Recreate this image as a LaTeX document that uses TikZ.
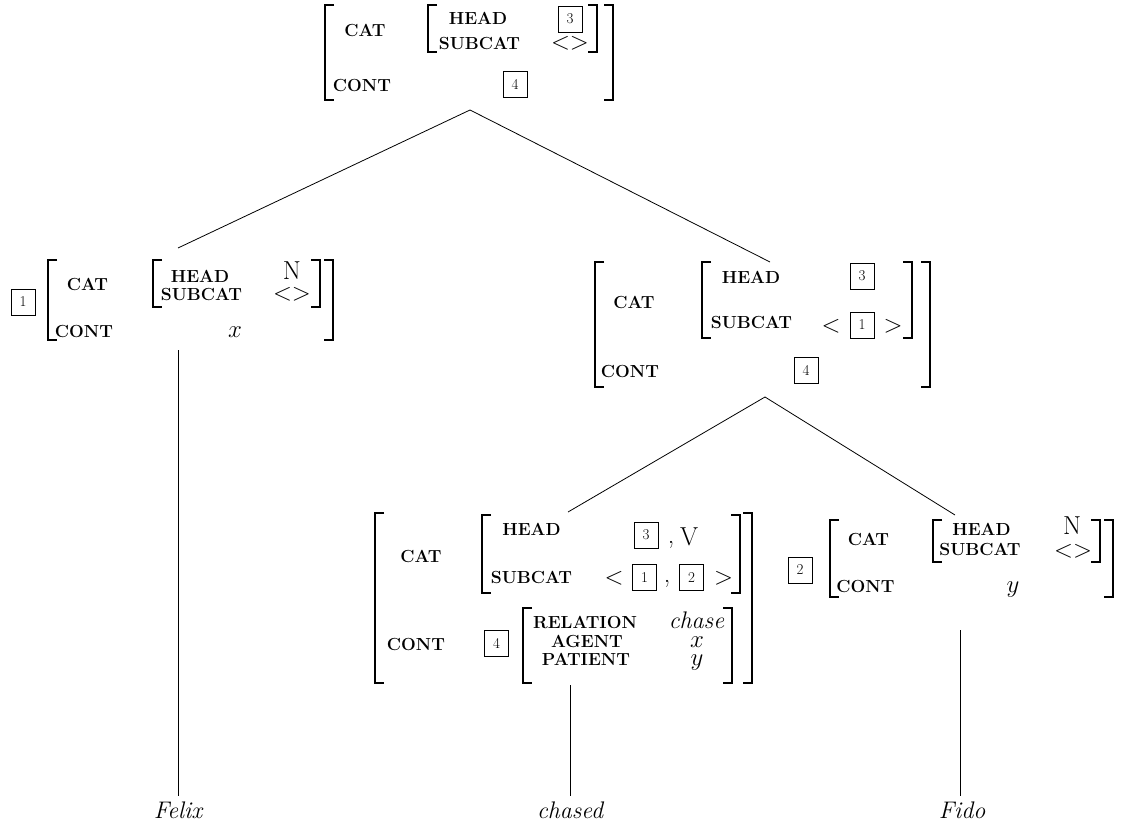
\documentclass[tikz,border=0pt]{standalone}
\usepackage{fontspec}
\newcommand\avmL[3]{\draw[brk] ({#1+9},#2) -- (#1,#2) -- (#1,#3) -- ({#1+9},#3);}
\newcommand\avmR[3]{\draw[brk] ({#1-9},#2) -- (#1,#2) -- (#1,#3) -- ({#1-9},#3);}
\tikzset{
  feat/.style={font=\fontsize{17.5}{18}\selectfont\bfseries, inner sep=0pt, anchor=base},
  tag/.style={draw, line width=0.7pt, minimum width=24pt, minimum height=26pt, inner sep=0pt, font=\fontsize{15}{15}\selectfont},
  val/.style={font=\fontsize{26}{26}\selectfont, inner sep=0pt, anchor=base},
  ang/.style={font=\fontsize{27}{27}\selectfont, inner sep=0pt},
  word/.style={font=\fontsize{24}{24}\selectfont\itshape, inner sep=5pt, anchor=base},
  brk/.style={line width=1.5pt},
  edge/.style={line width=0.8pt}
}
\begin{document}
\begin{tikzpicture}[x=1pt,y=-1pt]
\useasboundingbox (0,0) rectangle (1123,826);
% ---------- top AVM ----------
\node[feat] (tCat) at (365,37) {CAT};
\node[feat] (tHead) at (478,25) {HEAD};
\node[feat] (tSub) at (479.5,50) {SUBCAT};
\node[tag] (tB3) at (570,19) {3};
\node[ang] (tAng) at (570,43) {$<>$};
\node[feat] (tCont) at (362,92) {CONT};
\node[tag] (tB4) at (515,84) {4};
\avmL{325}{5}{100}
\avmR{613}{5}{100}
\avmL{428}{5}{52}
\avmR{597}{5}{52}
\coordinate (tBot) at (470,110);
% ---------- left AVM (Felix) ----------
\node[tag] (lB1) at (23,302) {1};
\node[feat] (lCat) at (87.5,290) {CAT};
\node[feat] (lHead) at (200,282) {HEAD};
\node[feat] (lSub) at (201.5,300) {SUBCAT};
\node[val] (lN) at (292,279) {N};
\node[ang] (lAng) at (292,294) {$<>$};
\node[feat] (lCont) at (84,337) {CONT};
\node[val] (lX) at (235,337) {$x$};
\avmL{48}{260}{340}
\avmR{333}{260}{340}
\avmL{153}{260}{307}
\avmR{320}{260}{307}
\coordinate (lTop) at (178,248);
\coordinate (lBot) at (178,350);
% ---------- right AVM ----------
\node[feat] (rCat) at (634,308) {CAT};
\node[feat] (rHead) at (751,283) {HEAD};
\node[feat] (rSub) at (751.5,328) {SUBCAT};
\node[tag] (rB3) at (862,276) {3};
\node[ang] (rLt) at (831,326) {$<$};
\node[tag] (rB1) at (862,325) {1};
\node[ang] (rGt) at (893,326) {$>$};
\node[feat] (rCont) at (630,377) {CONT};
\node[tag] (rB4) at (806,370) {4};
\avmL{595}{262}{387}
\avmR{930}{262}{387}
\avmL{702}{262}{338}
\avmR{912}{262}{338}
\coordinate (rTop) at (770,262);
\coordinate (rBot) at (765,397);
% ---------- chased AVM ----------
\node[feat] (cCat) at (421,562) {CAT};
\node[feat] (cHead) at (531.5,535) {HEAD};
\node[tag] (cB3) at (646,535) {3};
\node[val] (cCm1) at (671,543) {,};
\node[val] (cV) at (689,545) {V};
\node[feat] (cSub) at (531.5,583) {SUBCAT};
\node[ang] (cLt) at (614,578) {$<$};
\node[tag] (cB1) at (644.5,577.5) {1};
\node[val] (cCm2) at (667,582) {,};
\node[tag] (cB2) at (691.5,577.5) {2};
\node[ang] (cGt) at (723.5,578) {$>$};
\node[feat] (cCont) at (416,650) {CONT};
\node[tag] (cB4) at (496.5,643.5) {4};
\node[feat] (cRel) at (585,628) {RELATION};
\node[feat] (cAg) at (587,647) {AGENT};
\node[feat] (cPat) at (586,665) {PATIENT};
\node[word, inner sep=0pt] (cChase) at (696.5,628) {chase};
\node[val] (cX) at (697,647) {$x$};
\node[val] (cY) at (697,665) {$y$};
\avmL{375}{513}{683}
\avmR{752}{513}{683}
\avmL{482}{515}{593}
\avmR{740}{515}{593}
\avmL{523}{608}{683}
\avmR{732}{608}{683}
\coordinate (cTop) at (568,512);
\coordinate (cBot) at (570,685);
% ---------- Fido AVM ----------
\node[tag] (fB2) at (800,570) {2};
\node[feat] (fCat) at (868.5,545) {CAT};
\node[feat] (fHead) at (981.5,535) {HEAD};
\node[feat] (fSub) at (980,555) {SUBCAT};
\node[val] (fN) at (1072,534) {N};
\node[ang] (fAng) at (1073,551) {$<>$};
\node[feat] (fCont) at (865.5,592) {CONT};
\node[val] (fY) at (1013,592) {$y$};
\avmL{830}{520}{597}
\avmR{1113}{520}{597}
\avmL{933}{520}{562}
\avmR{1100}{520}{562}
\coordinate (fTop) at (955,515);
\coordinate (fBot) at (960,630);
% ---------- words ----------
\node[word] (felix) at (178,818) {Felix};
\node[word] (chased) at (570,818) {chased};
\node[word] (fido) at (962,818) {Fido};
% ---------- tree edges ----------
\draw[edge] (tBot) -- (lTop);
\draw[edge] (tBot) -- (rTop);
\draw[edge] (rBot) -- (cTop);
\draw[edge] (rBot) -- (fTop);
\draw[edge] (lBot) -- (lBot |- felix.north);
\draw[edge] (cBot) -- (cBot |- chased.north);
\draw[edge] (fBot) -- (fBot |- fido.north);
\end{tikzpicture}
\end{document}
